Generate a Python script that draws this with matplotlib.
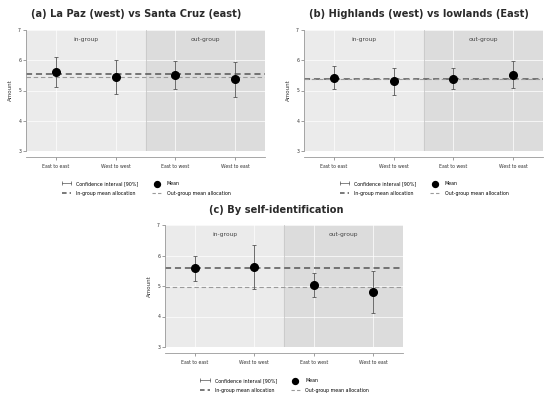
import matplotlib
matplotlib.use("Agg")
import matplotlib.pyplot as plt
from matplotlib.lines import Line2D

plt.rcParams["font.family"] = ["DejaVu Sans"]

CATEGORIES = ["East to east", "West to west", "East to west", "West to east"]
GROUP_LABELS = ["in-group", "out-group"]

TITLE_A = "(a) La Paz (west) vs Santa Cruz (east)"
MEAN_A = [5.62, 5.44, 5.50, 5.37]
LOW_A = [5.13, 4.87, 5.04, 4.80]
HIGH_A = [6.12, 6.01, 5.96, 5.94]
IN_MEAN_A = 5.56
OUT_MEAN_A = 5.46

TITLE_B = "(b) Highlands (west) vs lowlands (East)"
MEAN_B = [5.42, 5.30, 5.39, 5.51]
LOW_B = [5.04, 4.84, 5.04, 5.07]
HIGH_B = [5.80, 5.75, 5.75, 5.96]
IN_MEAN_B = 5.37
OUT_MEAN_B = 5.39

TITLE_C = "(c) By self-identification"
MEAN_C = [5.58, 5.62, 5.03, 4.80]
LOW_C = [5.18, 4.89, 4.64, 4.11]
HIGH_C = [5.98, 6.34, 5.42, 5.49]
IN_MEAN_C = 5.59
OUT_MEAN_C = 4.97

LEGEND_LABELS = ["Confidence interval [90%]", "In-group mean allocation",
                 "Mean", "Out-group mean allocation"]

W, H = 554, 399
fig = plt.figure(figsize=(W / 100, H / 100), dpi=100)


def px_axes(left, top, right, bottom):
    return fig.add_axes([left / W, 1 - bottom / H, (right - left) / W, (bottom - top) / H])


def panel(ax, title, means, lows, highs, in_mean, out_mean, tx, ty, ly):
    x = list(range(len(CATEGORIES)))
    ax.set_xlim(-0.5, 3.5)
    ax.set_ylim(3, 7)
    ax.axvspan(-0.5, 1.5, color="#ebebeb", zorder=0)
    ax.axvspan(1.5, 3.5, color="#dcdcdc", zorder=0)
    for yv in [3, 4, 5, 6, 7]:
        ax.axhline(yv, color="white", lw=0.5, zorder=1)
    for xv in x:
        ax.axvline(xv, color="white", lw=0.5, zorder=1)
    ax.axvline(1.5, color="#c8c8c8", lw=0.6, zorder=1)
    ax.text(0.5, 6.7, GROUP_LABELS[0], ha="center", va="center", fontsize=4.3, color="#444444")
    ax.text(2.5, 6.7, GROUP_LABELS[1], ha="center", va="center", fontsize=4.3, color="#444444")

    ax.axhline(in_mean, color="#555555", lw=1.1, ls=(0, (4, 2.5)), zorder=2)
    ax.axhline(out_mean, color="#9a9a9a", lw=0.8, ls=(0, (4, 2.5)), zorder=2)

    err = [[m - l for m, l in zip(means, lows)], [h - m for m, h in zip(means, highs)]]
    ax.errorbar(x, means, yerr=err, fmt="none", ecolor="#555555", elinewidth=0.6,
                capsize=1.5, capthick=0.6, zorder=3)
    ax.plot(x, means, "o", color="black", ms=5.5, zorder=4)

    ax.set_xticks(x)
    ax.set_xticklabels(CATEGORIES)
    ax.set_yticks([3, 4, 5, 6, 7])
    ax.tick_params(axis="y", labelsize=3.3, length=2, width=0.5, colors="#777777",
                   labelcolor="#333333", pad=1.5)
    ax.tick_params(axis="x", labelsize=3.3, length=2, width=0.5, colors="#777777",
                   labelcolor="#333333", pad=3)
    ax.set_ylabel("Amount", fontsize=4, color="#333333", labelpad=4)
    for s in ["top", "right"]:
        ax.spines[s].set_visible(False)
    ax.spines["bottom"].set_position(("outward", 4))
    ax.spines["bottom"].set_color("#999999")
    ax.spines["bottom"].set_linewidth(0.6)
    ax.spines["left"].set_color("#999999")
    ax.spines["left"].set_linewidth(0.6)

    fig.text(tx / W, 1 - ty / H, title, ha="center", va="center", fontsize=7.1,
             fontweight="bold", color="#2a2a2a")

    handles = [
        Line2D([0, 1], [0, 0], color="#555555", lw=0.5, marker="|", ms=2.5, mew=0.5),
        Line2D([0, 1], [0, 0], color="#555555", lw=1.1, ls=(0, (3, 2))),
        plt.scatter([], [], s=18, color="black"),
        Line2D([0, 1], [0, 0], color="#9a9a9a", lw=0.8, ls=(0, (3, 2))),
    ]
    pos = ax.get_position()
    fig.legend(handles, LEGEND_LABELS, ncol=2, loc="center",
               bbox_to_anchor=(pos.x0 + pos.width / 2, 1 - ly / H),
               fontsize=3.4, frameon=False, handlelength=2.6, handletextpad=0.8,
               columnspacing=2.6, labelspacing=1.0, numpoints=2, scatterpoints=1)


ax_a = px_axes(26, 30, 265, 151)
panel(ax_a, TITLE_A, MEAN_A, LOW_A, HIGH_A, IN_MEAN_A, OUT_MEAN_A, 136, 14, 188.5)

ax_b = px_axes(304, 30, 543, 151)
panel(ax_b, TITLE_B, MEAN_B, LOW_B, HIGH_B, IN_MEAN_B, OUT_MEAN_B, 419, 14, 188.5)

ax_c = px_axes(165, 225, 403, 347)
panel(ax_c, TITLE_C, MEAN_C, LOW_C, HIGH_C, IN_MEAN_C, OUT_MEAN_C, 276, 210, 385.5)

fig.savefig("out.png", dpi=100)
